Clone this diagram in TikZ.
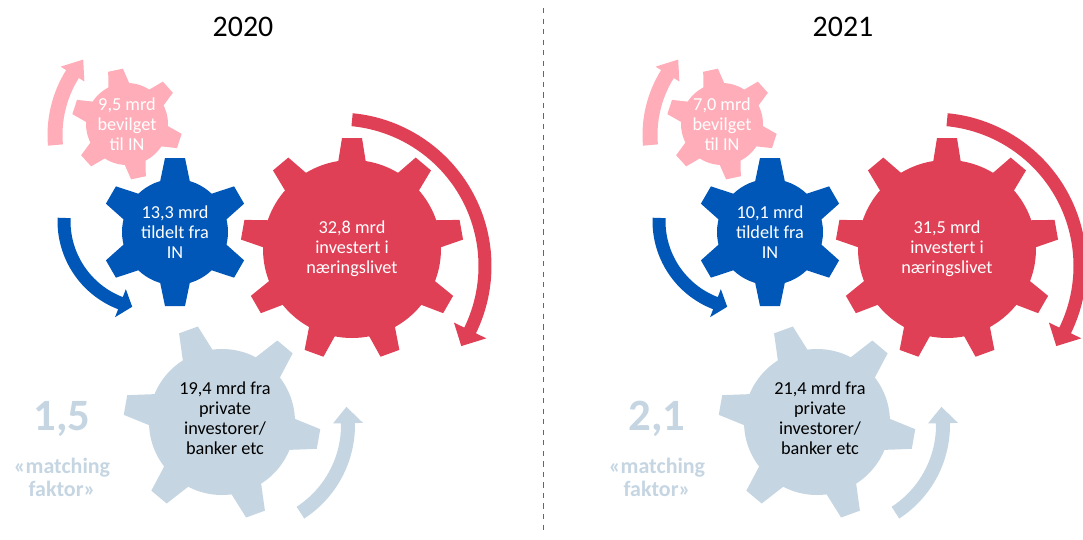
\documentclass[tikz,border=0pt]{standalone}
\usepackage{fontspec}
\setmainfont{Carlito}
\usetikzlibrary{calc}

\definecolor{gearpink}{RGB}{255,174,185}
\definecolor{gearblue}{RGB}{0,87,184}
\definecolor{gearred}{RGB}{224,64,85}
\definecolor{geargrey}{RGB}{197,213,226}

% gear: centre, body r, outer r, base half width, tip half width, first tooth, teeth, colour
\newcommand{\gearshape}[8]{%
  \fill[#8] #1 circle[radius=#2];
  \foreach \k in {1,...,#7}{
    \fill[#8, shift={#1}, rotate={#6+360/#7*(\k-1)}]
      ({#2-3},-#4) -- (#3,-#5) -- (#3,#5) -- ({#2-3},#4) -- cycle;
  }}

% turning arrow: centre, r, half width, start, head base, tip, head half width, colour
\newcommand{\ringarrow}[8]{%
  \fill[#8, shift={#1}]
    ({#4}:{#2+#3}) arc[start angle=#4, end angle=#5, radius=#2+#3]
    -- ({#5}:{#2+#7}) -- ({#6}:{#2}) -- ({#5}:{#2-#7}) -- ({#5}:{#2-#3})
    arc[start angle=#5, end angle=#4, radius=#2-#3] -- cycle;}

% one year: shift, tag, pink, blue, red, grey, factor
\newcommand{\gearpanel}[7]{%
  \begin{scope}[shift={(#1,0)}]
    \coordinate (pink#2) at (127,-124);
    \coordinate (blue#2) at (175,-232);
    \coordinate (red#2)  at (352,-249);
    \coordinate (grey#2) at (222,-422);

    \gearshape{(pink#2)}{41}{55}{11}{7.5}{102}{6}{gearpink}
    \gearshape{(grey#2)}{73}{98}{16}{10}{110}{6}{geargrey}
    \gearshape{(blue#2)}{53}{74}{15}{10}{90}{6}{gearblue}
    \gearshape{(red#2)}{89}{111}{14}{10}{90}{9}{gearred}

    \ringarrow{(170,-135)}{115}{7.5}{185}{148}{139}{14}{gearpink}
    \ringarrow{(152,-221)}{88}{6.5}{178}{249}{257}{15}{gearblue}
    \ringarrow{(338,-266)}{147}{6.5}{84.5}{-26}{-33}{18}{gearred}
    \ringarrow{(243.5,-425)}{104.5}{7}{-57}{1}{10}{15}{geargrey}

    \node[gearlabel] (pinktxt#2) at (pink#2) {#3 mrd\\bevilget\\til IN};
    \node[gearlabel] (bluetxt#2) at (blue#2) {#4 mrd\\tildelt fra\\IN};
    \node[gearlabel] (redtxt#2) at (red#2) {#5 mrd\\investert i\\næringslivet};
    \node[gearlabel, text=black] (greytxt#2) at (225,-418)
      {#6 mrd fra\\private\\investorer/\\banker etc};

    \node[factorlabel] (factor#2) at (62,-419) {#7};
    \node[factornote] (note#2) at (62,-477) {«matching\\faktor»};
  \end{scope}}

\begin{document}
\begin{tikzpicture}[x=0.02cm, y=0.02cm,
    gearlabel/.style={align=center, text=white, inner sep=0pt,
      font=\fontsize{10.4}{11.3}\selectfont},
    yearlabel/.style={inner sep=0pt, font=\fontsize{17}{20}\selectfont},
    factorlabel/.style={inner sep=0pt, text=geargrey,
      font=\bfseries\fontsize{25.5}{27}\selectfont},
    factornote/.style={align=center, inner sep=0pt, text=geargrey,
      font=\bfseries\fontsize{12.5}{13}\selectfont},
  ]
  \useasboundingbox (0,0) rectangle (1083,-539);

  \node[yearlabel] (year2020) at (243,-27) {2020};
  \node[yearlabel] (year2021) at (843,-27) {2021};

  \coordinate (splittop) at (543,-8);
  \coordinate (splitbot) at (543,-535);
  \draw[dashed, black!60, line width=0.5pt] (splittop) -- (splitbot);

  \gearpanel{0}{2020}{9,5}{13,3}{32,8}{19,4}{1,5}
  \gearpanel{595}{2021}{7,0}{10,1}{31,5}{21,4}{2,1}
\end{tikzpicture}
\end{document}
